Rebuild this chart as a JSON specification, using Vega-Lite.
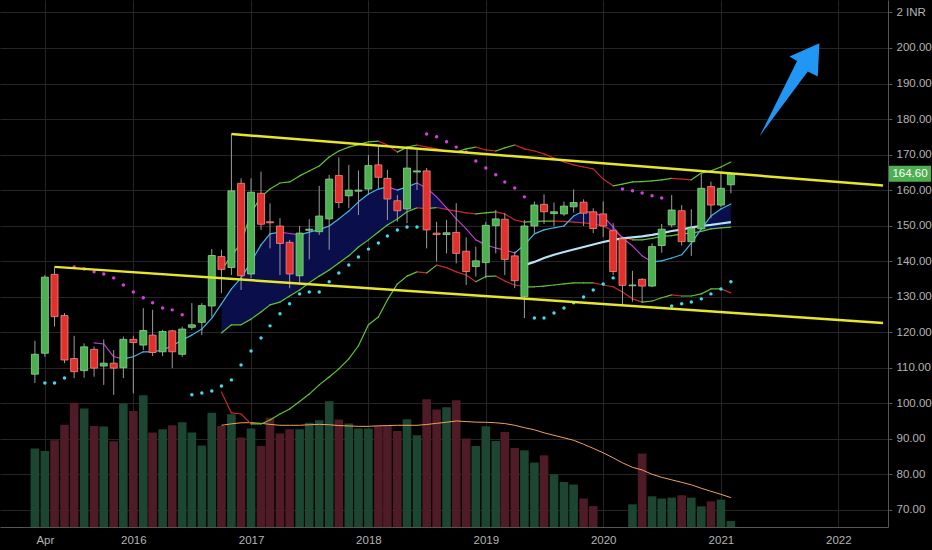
{
"$schema":"https://vega.github.io/schema/vega-lite/v6.json",
"width":888,"height":527,
"autosize":{"type":"none"},
"padding":{"left":0,"top":0,"right":44,"bottom":23},
"background":"#000000",
"config":{"view":{"stroke":null},"font":"Liberation Sans","axis":{"labelOverlap":false,"labelBound":false}},
"datasets":{
"candles":[
{"t":"2015-03-01","o":108.2,"h":117.6,"l":105.7,"c":113.8,"v":59.5},
{"t":"2015-04-01","o":114.1,"h":136.1,"l":113.1,"c":135.5,"v":57.7,"sar":105.7,"sd":"up"},
{"t":"2015-05-01","o":136.3,"h":138.2,"l":121.6,"c":124.4,"v":65.8,"sar":105.7,"sd":"up"},
{"t":"2015-06-01","o":124.7,"h":125.4,"l":111.3,"c":112.2,"v":77.7,"sar":107.1,"sd":"up"},
{"t":"2015-07-01","o":112.6,"h":119.0,"l":107.1,"c":108.9,"v":94.4,"sar":138.4,"sd":"down"},
{"t":"2015-08-01","o":109.2,"h":116.9,"l":107.2,"c":115.9,"v":89.9,"sar":137.8,"sd":"down"},
{"t":"2015-09-01","o":115.2,"h":116.0,"l":107.5,"c":109.9,"v":76.7,"sar":137.0,"sd":"down"},
{"t":"2015-10-01","o":110.5,"h":118.0,"l":105.2,"c":111.3,"v":76.2,"sar":136.4,"sd":"down"},
{"t":"2015-11-01","o":111.3,"h":115.0,"l":102.4,"c":109.9,"v":65.0,"sar":135.3,"sd":"down"},
{"t":"2015-12-01","o":110.0,"h":118.8,"l":107.1,"c":118.0,"v":93.7,"sar":133.3,"sd":"down"},
{"t":"2016-01-01","o":118.0,"h":119.0,"l":102.8,"c":117.1,"v":88.0,"sar":131.3,"sd":"down"},
{"t":"2016-02-01","o":116.4,"h":126.8,"l":115.0,"c":120.5,"v":100.0,"sar":129.7,"sd":"down"},
{"t":"2016-03-01","o":119.2,"h":126.3,"l":113.3,"c":114.3,"v":71.7,"sar":128.3,"sd":"down"},
{"t":"2016-04-01","o":114.5,"h":120.7,"l":113.3,"c":120.2,"v":74.2,"sar":126.8,"sd":"down"},
{"t":"2016-05-01","o":120.4,"h":120.7,"l":109.9,"c":114.5,"v":77.2,"sar":126.3,"sd":"down"},
{"t":"2016-06-01","o":113.8,"h":121.6,"l":113.1,"c":120.9,"v":79.5,"sar":124.9,"sd":"down"},
{"t":"2016-07-01","o":121.4,"h":128.2,"l":120.7,"c":122.1,"v":71.7,"sar":102.4,"sd":"up"},
{"t":"2016-08-01","o":122.8,"h":128.2,"l":119.2,"c":127.5,"v":61.8,"sar":102.9,"sd":"up"},
{"t":"2016-09-01","o":127.4,"h":143.4,"l":124.4,"c":141.6,"v":86.8,"sar":103.5,"sd":"up"},
{"t":"2016-10-01","o":141.3,"h":143.2,"l":131.0,"c":137.7,"v":76.7,"sar":104.9,"sd":"up"},
{"t":"2016-11-01","o":138.2,"h":175.8,"l":136.1,"c":159.8,"v":85.5,"sar":106.6,"sd":"up"},
{"t":"2016-12-01","o":161.9,"h":163.3,"l":131.9,"c":135.9,"v":67.9,"sar":110.8,"sd":"up"},
{"t":"2017-01-01","o":136.4,"h":163.3,"l":135.2,"c":159.4,"v":74.7,"sar":114.7,"sd":"up"},
{"t":"2017-02-01","o":159.1,"h":165.2,"l":148.8,"c":150.4,"v":61.5,"sar":118.4,"sd":"up"},
{"t":"2017-03-01","o":151.1,"h":156.3,"l":143.6,"c":150.8,"v":83.0,"sar":121.8,"sd":"up"},
{"t":"2017-04-01","o":149.9,"h":152.1,"l":136.1,"c":145.0,"v":70.9,"sar":125.2,"sd":"up"},
{"t":"2017-05-01","o":145.3,"h":146.0,"l":132.4,"c":136.4,"v":74.2,"sar":128.0,"sd":"up"},
{"t":"2017-06-01","o":135.9,"h":149.9,"l":133.3,"c":147.9,"v":74.2,"sar":130.8,"sd":"up"},
{"t":"2017-07-01","o":148.7,"h":151.8,"l":140.5,"c":149.0,"v":79.2,"sar":131.3,"sd":"up"},
{"t":"2017-08-01","o":148.3,"h":161.2,"l":147.4,"c":152.7,"v":81.0,"sar":131.3,"sd":"up"},
{"t":"2017-09-01","o":151.9,"h":164.3,"l":143.2,"c":163.1,"v":95.4,"sar":134.2,"sd":"up"},
{"t":"2017-10-01","o":164.1,"h":169.2,"l":154.9,"c":156.5,"v":81.5,"sar":136.7,"sd":"up"},
{"t":"2017-11-01","o":158.4,"h":167.1,"l":154.9,"c":160.0,"v":78.5,"sar":138.9,"sd":"up"},
{"t":"2017-12-01","o":159.7,"h":165.5,"l":153.0,"c":160.0,"v":74.7,"sar":141.2,"sd":"up"},
{"t":"2018-01-01","o":160.3,"h":169.9,"l":158.6,"c":166.9,"v":74.7,"sar":143.4,"sd":"up"},
{"t":"2018-02-01","o":167.1,"h":172.2,"l":160.5,"c":163.6,"v":76.7,"sar":145.1,"sd":"up"},
{"t":"2018-03-01","o":163.3,"h":165.7,"l":151.6,"c":157.5,"v":76.7,"sar":147.1,"sd":"up"},
{"t":"2018-04-01","o":157.0,"h":158.6,"l":151.1,"c":154.2,"v":72.9,"sar":148.8,"sd":"up"},
{"t":"2018-05-01","o":154.7,"h":171.8,"l":150.7,"c":166.2,"v":81.7,"sar":149.6,"sd":"up"},
{"t":"2018-06-01","o":165.1,"h":171.3,"l":160.0,"c":165.4,"v":69.6,"sar":149.6,"sd":"up"},
{"t":"2018-07-01","o":165.4,"h":166.2,"l":143.6,"c":148.8,"v":96.9,"sar":175.8,"sd":"down"},
{"t":"2018-08-01","o":147.9,"h":151.1,"l":139.9,"c":147.5,"v":89.1,"sar":175.0,"sd":"down"},
{"t":"2018-09-01","o":147.5,"h":151.6,"l":142.2,"c":148.0,"v":90.8,"sar":173.6,"sd":"down"},
{"t":"2018-10-01","o":148.1,"h":156.3,"l":139.4,"c":142.2,"v":96.2,"sar":172.1,"sd":"down"},
{"t":"2018-11-01","o":142.8,"h":146.7,"l":133.3,"c":137.1,"v":67.1,"sar":170.7,"sd":"down"},
{"t":"2018-12-01","o":138.5,"h":144.1,"l":135.7,"c":140.1,"v":61.5,"sar":168.2,"sd":"down"},
{"t":"2019-01-01","o":139.6,"h":151.1,"l":135.2,"c":150.1,"v":76.4,"sar":166.2,"sd":"down"},
{"t":"2019-02-01","o":150.0,"h":154.4,"l":142.2,"c":151.9,"v":65.3,"sar":164.3,"sd":"down"},
{"t":"2019-03-01","o":151.8,"h":153.5,"l":136.1,"c":140.5,"v":72.1,"sar":162.3,"sd":"down"},
{"t":"2019-04-01","o":141.5,"h":142.7,"l":132.4,"c":134.5,"v":60.0,"sar":160.6,"sd":"down"},
{"t":"2019-05-01","o":130.0,"h":151.6,"l":124.0,"c":149.9,"v":58.2,"sar":158.1,"sd":"down"},
{"t":"2019-06-01","o":149.9,"h":156.8,"l":147.9,"c":155.8,"v":48.9,"sar":124.0,"sd":"up"},
{"t":"2019-07-01","o":156.0,"h":158.8,"l":150.5,"c":153.9,"v":54.4,"sar":124.0,"sd":"up"},
{"t":"2019-08-01","o":153.4,"h":156.5,"l":149.9,"c":153.9,"v":40.0,"sar":125.4,"sd":"up"},
{"t":"2019-09-01","o":153.3,"h":156.8,"l":152.7,"c":155.5,"v":34.2,"sar":126.8,"sd":"up"},
{"t":"2019-10-01","o":155.3,"h":160.2,"l":153.7,"c":156.5,"v":32.2,"sar":128.3,"sd":"up"},
{"t":"2019-11-01","o":156.6,"h":157.4,"l":149.9,"c":153.5,"v":21.6,"sar":129.9,"sd":"up"},
{"t":"2019-12-01","o":153.9,"h":154.9,"l":147.9,"c":149.2,"v":15.9,"sar":131.9,"sd":"up"},
{"t":"2020-01-01","o":153.3,"h":156.8,"l":146.8,"c":149.9,"v":0,"sar":133.6,"sd":"up"},
{"t":"2020-02-01","o":148.6,"h":150.7,"l":136.1,"c":137.1,"v":0,"sar":135.3,"sd":"up"},
{"t":"2020-03-01","o":146.3,"h":146.7,"l":127.4,"c":133.2,"v":0,"sar":160.3,"sd":"down"},
{"t":"2020-04-01","o":133.1,"h":137.3,"l":128.6,"c":133.3,"v":17.2,"sar":159.8,"sd":"down"},
{"t":"2020-05-01","o":134.9,"h":135.2,"l":128.3,"c":133.0,"v":55.7,"sar":159.2,"sd":"down"},
{"t":"2020-06-01","o":133.0,"h":145.0,"l":132.7,"c":144.1,"v":23.3,"sar":158.4,"sd":"down"},
{"t":"2020-07-01","o":144.4,"h":150.5,"l":142.4,"c":149.0,"v":21.6,"sar":157.8,"sd":"down"},
{"t":"2020-08-01","o":150.2,"h":158.6,"l":149.5,"c":154.4,"v":22.3,"sar":127.4,"sd":"up"},
{"t":"2020-09-01","o":154.2,"h":155.8,"l":144.4,"c":145.5,"v":24.1,"sar":128.0,"sd":"up"},
{"t":"2020-10-01","o":145.5,"h":154.6,"l":141.5,"c":149.3,"v":22.3,"sar":128.5,"sd":"up"},
{"t":"2020-11-01","o":149.1,"h":164.5,"l":148.8,"c":160.5,"v":15.7,"sar":129.4,"sd":"up"},
{"t":"2020-12-01","o":161.0,"h":162.4,"l":152.1,"c":155.8,"v":19.5,"sar":130.8,"sd":"up"},
{"t":"2021-01-01","o":155.8,"h":165.2,"l":155.2,"c":160.5,"v":20.8,"sar":132.2,"sd":"up"},
{"t":"2021-02-01","o":161.5,"h":164.9,"l":159.1,"c":164.6,"v":4.6,"sar":134.2,"sd":"up"}
],
"ind":[
{"t":"2015-09-01","f":117.0},
{"t":"2015-10-01","f":116.7},
{"t":"2015-11-01","f":113.1},
{"t":"2015-12-01","f":112.5},
{"t":"2016-01-01","f":113.1},
{"t":"2016-02-01","f":114.5},
{"t":"2016-03-01","f":114.5},
{"t":"2016-04-01","f":115.0},
{"t":"2016-05-01","f":116.2},
{"t":"2016-06-01","f":117.8},
{"t":"2016-07-01","f":119.2},
{"t":"2016-08-01","f":120.9},
{"t":"2016-09-01","f":124.0},
{"t":"2016-10-01","f":128.0,"u":137.5,"m":119.8,"lo":103.2,"vma":77.2},
{"t":"2016-11-01","f":132.2,"u":141.5,"m":122.1,"lo":97.3,"vma":78.3},
{"t":"2016-12-01","f":135.3,"u":145.1,"m":122.1,"lo":97.0,"vma":79.1},
{"t":"2017-01-01","f":139.8,"u":153.6,"m":123.7,"lo":94.2,"vma":79.2},
{"t":"2017-02-01","f":144.6,"u":158.1,"m":125.7,"lo":94.2,"vma":78.7},
{"t":"2017-03-01","f":147.7,"u":160.3,"m":127.7,"lo":95.3,"vma":77.9},
{"t":"2017-04-01","f":148.2,"u":162.0,"m":128.5,"lo":97.0,"vma":77.2},
{"t":"2017-05-01","f":147.8,"u":162.3,"m":130.2,"lo":98.4,"vma":77.2},
{"t":"2017-06-01","f":147.4,"u":164.0,"m":131.9,"lo":100.5,"vma":77.2},
{"t":"2017-07-01","f":148.2,"u":165.4,"m":133.9,"lo":102.6,"vma":77.6},
{"t":"2017-08-01","f":148.9,"u":166.8,"m":135.8,"lo":105.2,"vma":77.9},
{"t":"2017-09-01","f":149.9,"u":169.3,"m":137.5,"lo":107.4,"vma":77.6},
{"t":"2017-10-01","f":151.9,"u":171.0,"m":139.5,"lo":109.7,"vma":77.0},
{"t":"2017-11-01","f":154.1,"u":172.1,"m":141.5,"lo":112.5,"vma":76.7},
{"t":"2017-12-01","f":156.7,"u":172.8,"m":144.0,"lo":116.2,"vma":76.4},
{"t":"2018-01-01","f":158.9,"u":173.6,"m":146.0,"lo":122.1,"vma":76.4},
{"t":"2018-02-01","f":160.3,"u":173.8,"m":148.2,"lo":124.3,"vma":76.8},
{"t":"2018-03-01","f":160.9,"u":172.7,"m":150.2,"lo":129.1,"vma":77.0},
{"t":"2018-04-01","f":160.0,"u":170.7,"m":151.9,"lo":133.6,"vma":77.2},
{"t":"2018-05-01","f":160.9,"u":172.1,"m":153.9,"lo":135.8,"vma":77.2},
{"t":"2018-06-01","f":162.0,"u":172.7,"m":155.0,"lo":137.0,"vma":77.2},
{"t":"2018-07-01","f":160.6,"u":172.1,"m":154.8,"lo":136.7,"vma":77.8},
{"t":"2018-08-01","f":158.1,"u":171.6,"m":155.1,"lo":138.9,"vma":78.7},
{"t":"2018-09-01","f":155.0,"u":171.0,"m":154.6,"lo":138.2,"vma":79.5},
{"t":"2018-10-01","f":151.9,"u":170.7,"m":154.1,"lo":137.0,"vma":80.5},
{"t":"2018-11-01","f":149.1,"u":171.6,"m":153.6,"lo":136.1,"vma":80.0},
{"t":"2018-12-01","f":146.0,"u":172.1,"m":153.3,"lo":134.2,"vma":79.6},
{"t":"2019-01-01","f":144.6,"u":171.3,"m":153.6,"lo":135.7,"vma":79.5},
{"t":"2019-02-01","f":143.7,"u":171.0,"m":153.9,"lo":135.8,"vma":79.1},
{"t":"2019-03-01","f":143.2,"u":171.9,"m":153.3,"lo":134.4,"vma":78.5},
{"t":"2019-04-01","f":142.3,"u":172.7,"m":151.6,"lo":133.3,"vma":77.2},
{"t":"2019-05-01","f":144.6,"u":171.6,"m":151.0,"lo":132.8,"vma":75.4,"s50":138.9},
{"t":"2019-06-01","f":147.7,"u":171.0,"m":151.2,"lo":132.8,"vma":73.8,"s50":139.8},
{"t":"2019-07-01","f":148.8,"u":170.2,"m":151.3,"lo":133.0,"vma":71.5,"s50":140.9},
{"t":"2019-08-01","f":149.4,"u":169.0,"m":151.3,"lo":133.3,"vma":69.6,"s50":141.8},
{"t":"2019-09-01","f":149.9,"u":167.9,"m":151.2,"lo":133.6,"vma":67.7,"s50":142.6},
{"t":"2019-10-01","f":152.7,"u":167.1,"m":151.0,"lo":133.9,"vma":65.8,"s50":143.3},
{"t":"2019-11-01","f":154.1,"u":166.5,"m":150.8,"lo":133.9,"vma":62.8,"s50":144.0},
{"t":"2019-12-01","f":153.6,"u":166.0,"m":150.5,"lo":133.9,"vma":59.7,"s50":144.7},
{"t":"2020-01-01","f":152.7,"u":163.1,"m":149.9,"lo":133.3,"vma":56.3,"s50":145.4},
{"t":"2020-02-01","f":149.6,"u":161.2,"m":148.5,"lo":132.8,"vma":52.5,"s50":146.0},
{"t":"2020-03-01","f":146.5,"u":161.7,"m":146.8,"lo":131.3,"vma":48.7,"s50":146.4},
{"t":"2020-04-01","f":144.3,"u":162.3,"m":146.0,"lo":129.4,"vma":45.3,"s50":146.7},
{"t":"2020-05-01","f":141.5,"u":162.4,"m":146.0,"lo":128.5,"vma":43.3,"s50":147.0},
{"t":"2020-06-01","f":139.8,"u":162.6,"m":146.4,"lo":128.8,"vma":40.0,"s50":147.4},
{"t":"2020-07-01","f":140.1,"u":162.9,"m":147.0,"lo":129.7,"vma":37.7,"s50":147.9},
{"t":"2020-08-01","f":140.9,"u":163.3,"m":147.2,"lo":130.5,"vma":35.8,"s50":148.5},
{"t":"2020-09-01","f":141.8,"u":163.1,"m":147.7,"lo":130.2,"vma":33.9,"s50":148.9},
{"t":"2020-10-01","f":145.1,"u":162.9,"m":147.9,"lo":130.2,"vma":32.0,"s50":149.5},
{"t":"2020-11-01","f":149.1,"u":164.8,"m":148.4,"lo":130.8,"vma":29.4,"s50":149.9},
{"t":"2020-12-01","f":152.7,"u":165.4,"m":149.1,"lo":132.2,"vma":27.1,"s50":150.2},
{"t":"2021-01-01","f":154.7,"u":166.5,"m":149.4,"lo":132.2,"vma":24.8,"s50":150.6},
{"t":"2021-02-01","f":156.1,"u":167.9,"m":149.6,"lo":131.1,"vma":22.3,"s50":151.0}
],
"fill":[
{"seg":1,"t":"2016-10-01","a":128.0,"b":119.8},
{"seg":1,"t":"2016-11-01","a":132.2,"b":122.1},
{"seg":1,"t":"2016-12-01","a":135.3,"b":122.1},
{"seg":1,"t":"2017-01-01","a":139.8,"b":123.7},
{"seg":1,"t":"2017-02-01","a":144.6,"b":125.7},
{"seg":1,"t":"2017-03-01","a":147.7,"b":127.7},
{"seg":1,"t":"2017-04-01","a":148.2,"b":128.5},
{"seg":1,"t":"2017-05-01","a":147.8,"b":130.2},
{"seg":1,"t":"2017-06-01","a":147.4,"b":131.9},
{"seg":1,"t":"2017-07-01","a":148.2,"b":133.9},
{"seg":1,"t":"2017-08-01","a":148.9,"b":135.8},
{"seg":1,"t":"2017-09-01","a":149.9,"b":137.5},
{"seg":1,"t":"2017-10-01","a":151.9,"b":139.5},
{"seg":1,"t":"2017-11-01","a":154.1,"b":141.5},
{"seg":1,"t":"2017-12-01","a":156.7,"b":144.0},
{"seg":1,"t":"2018-01-01","a":158.9,"b":146.0},
{"seg":1,"t":"2018-02-01","a":160.3,"b":148.2},
{"seg":1,"t":"2018-03-01","a":160.9,"b":150.2},
{"seg":1,"t":"2018-04-01","a":160.0,"b":151.9},
{"seg":1,"t":"2018-05-01","a":160.9,"b":153.9},
{"seg":1,"t":"2018-06-01","a":162.0,"b":155.0},
{"seg":1,"t":"2018-07-01","a":160.6,"b":154.8},
{"seg":1,"t":"2018-08-01","a":158.1,"b":155.1},
{"seg":1,"t":"2018-09-01","a":155.0,"b":154.6},
{"seg":1,"t":"2018-09-05","a":154.5,"b":154.5},
{"seg":2,"t":"2019-09-14","a":151.1,"b":151.1},
{"seg":2,"t":"2019-10-01","a":152.7,"b":151.0},
{"seg":2,"t":"2019-11-01","a":154.1,"b":150.8},
{"seg":2,"t":"2019-12-01","a":153.6,"b":150.5},
{"seg":2,"t":"2020-01-01","a":152.7,"b":149.9},
{"seg":2,"t":"2020-02-01","a":149.6,"b":148.5},
{"seg":2,"t":"2020-02-24","a":147.2,"b":147.2},
{"seg":3,"t":"2020-10-25","a":148.3,"b":148.3},
{"seg":3,"t":"2020-11-01","a":149.1,"b":148.4},
{"seg":3,"t":"2020-12-01","a":152.7,"b":149.1},
{"seg":3,"t":"2021-01-01","a":154.7,"b":149.4},
{"seg":3,"t":"2021-02-01","a":156.1,"b":149.6}
],
"trend":[
{"s":"upper","t":"2016-11-01","p":175.8},
{"s":"upper","t":"2022-05-20","p":161.3},
{"s":"lower","t":"2015-05-01","p":138.4},
{"s":"lower","t":"2022-05-20","p":122.6}
],
"arrow":[{"t":"2021-08-01","p":188.2}],
"last":[{"p":164.6,"label":"164.60"}]
},
"resolve":{"scale":{"y":"independent"}},
"layer":[
{
"layer":[
{"data":{"name":"candles"},
 "mark":{"type":"bar","size":8.6},
 "encoding":{
  "x":{"field":"t","type":"temporal","title":null,"scale":{"type":"utc","domain":[{"year":2014,"month":11,"date":28,"utc":true},{"year":2022,"month":5,"date":20,"utc":true}]}},
  "y":{"field":"v","type":"quantitative","title":null,"axis":null,"scale":{"domain":[0,400],"nice":false}},
  "color":{"condition":{"test":"datum.c >= datum.o","value":"#1c4632"},"value":"#4f1b27"}}},
{"data":{"name":"ind"},
 "transform":[{"filter":"isValid(datum.vma)"}],
 "mark":{"type":"line","color":"#f0a15a","strokeWidth":1},
 "encoding":{
  "x":{"field":"t","type":"temporal","title":null,"scale":{"type":"utc","domain":[{"year":2014,"month":11,"date":28,"utc":true},{"year":2022,"month":5,"date":20,"utc":true}]}},
  "y":{"field":"vma","type":"quantitative","title":null,"axis":null,"scale":{"domain":[0,400],"nice":false}}}}
]
},
{
"layer":[
{"data":{"name":"fill"},
 "mark":{"type":"area","color":"#0a0e4a","opacity":1},
 "encoding":{
  "x":{"field":"t","type":"temporal","title":null,
   "scale":{"type":"utc","domain":[{"year":2014,"month":11,"date":28,"utc":true},{"year":2022,"month":5,"date":20,"utc":true}]},
   "axis":{"values":[{"year":2015,"month":4,"date":1,"utc":true},{"year":2016,"month":1,"date":1,"utc":true},{"year":2017,"month":1,"date":1,"utc":true},{"year":2018,"month":1,"date":1,"utc":true},{"year":2019,"month":1,"date":1,"utc":true},{"year":2020,"month":1,"date":1,"utc":true},{"year":2021,"month":1,"date":1,"utc":true},{"year":2022,"month":1,"date":1,"utc":true}],
    "tickCount":40,
    "labelExpr":"utcmonth(datum.value) == 3 ? 'Apr' : utcFormat(datum.value, '%Y')",
    "grid":true,"gridColor":"#252525","tickSize":0,"domainColor":"#555555","labelColor":"#b4b4b4","labelFontSize":11.5,"labelPadding":7,"labelFlush":false,"labelOverlap":false}},
  "y":{"field":"a","type":"quantitative","title":null,
   "scale":{"domain":[65.2,213.5],"nice":false,"zero":false},
   "axis":{"orient":"right","values":[70,80,90,100,110,120,130,140,150,160,170,180,190,200,210],
    "tickCount":40,
    "labelExpr":"datum.value == 210 ? '2 INR' : format(datum.value, '.2f')",
    "grid":true,"gridColor":"#252525","tickSize":4,"tickColor":"#555555","domainColor":"#555555","labelColor":"#b4b4b4","labelFontSize":11.5,"labelPadding":4,"labelOverlap":false,"labelBound":false}},
  "y2":{"field":"b"},
  "detail":{"field":"seg","type":"nominal"}}},
{"data":{"name":"ind"},
 "transform":[
  {"fold":["u","m","lo"],"as":["s","v"]},
  {"filter":"isValid(datum.v)"},
  {"window":[{"op":"lag","field":"v","as":"pv"},{"op":"lag","field":"t","as":"pt"}],"groupby":["s"],"sort":[{"field":"t","order":"ascending"}]},
  {"filter":"isValid(datum.pv)"}],
 "mark":{"type":"rule","strokeWidth":1.2,"strokeCap":"round"},
 "encoding":{
  "x":{"field":"pt","type":"temporal","title":null,"scale":{"type":"utc","domain":[{"year":2014,"month":11,"date":28,"utc":true},{"year":2022,"month":5,"date":20,"utc":true}]}},
  "x2":{"field":"t"},
  "y":{"field":"pv","type":"quantitative","title":null,"scale":{"domain":[65.2,213.5],"nice":false,"zero":false}},
  "y2":{"field":"v"},
  "color":{"condition":{"test":"datum.v >= datum.pv","value":"#62c336"},"value":"#c92a2a"}}},
{"data":{"name":"ind"},
 "transform":[
  {"filter":"isValid(datum.f)"},
  {"window":[{"op":"lag","field":"f","as":"pf"},{"op":"lag","field":"t","as":"pt"}],"sort":[{"field":"t","order":"ascending"}]},
  {"filter":"isValid(datum.pf)"}],
 "mark":{"type":"rule","strokeWidth":1.2,"strokeCap":"round"},
 "encoding":{
  "x":{"field":"pt","type":"temporal","title":null,"scale":{"type":"utc","domain":[{"year":2014,"month":11,"date":28,"utc":true},{"year":2022,"month":5,"date":20,"utc":true}]}},
  "x2":{"field":"t"},
  "y":{"field":"pf","type":"quantitative","title":null,"scale":{"domain":[65.2,213.5],"nice":false,"zero":false}},
  "y2":{"field":"f"},
  "color":{"condition":{"test":"datum.f >= datum.pf","value":"#3fb8e6"},"value":"#b93fc9"}}},
{"data":{"name":"ind"},
 "transform":[{"filter":"isValid(datum.s50)"}],
 "mark":{"type":"line","color":"#b5e3f7","strokeWidth":2.2},
 "encoding":{
  "x":{"field":"t","type":"temporal","title":null,"scale":{"type":"utc","domain":[{"year":2014,"month":11,"date":28,"utc":true},{"year":2022,"month":5,"date":20,"utc":true}]}},
  "y":{"field":"s50","type":"quantitative","title":null,"scale":{"domain":[65.2,213.5],"nice":false,"zero":false}}}},
{"data":{"name":"candles"},
 "transform":[{"filter":"isValid(datum.sar)"}],
 "mark":{"type":"circle","size":12,"opacity":1},
 "encoding":{
  "x":{"field":"t","type":"temporal","title":null,"scale":{"type":"utc","domain":[{"year":2014,"month":11,"date":28,"utc":true},{"year":2022,"month":5,"date":20,"utc":true}]}},
  "y":{"field":"sar","type":"quantitative","title":null,"scale":{"domain":[65.2,213.5],"nice":false,"zero":false}},
  "color":{"condition":{"test":"datum.sd == 'up'","value":"#3ddcef"},"value":"#d93ae6"}}},
{"data":{"name":"candles"},
 "mark":{"type":"rule","color":"#9c9c9c","strokeWidth":1},
 "encoding":{
  "x":{"field":"t","type":"temporal","title":null,"scale":{"type":"utc","domain":[{"year":2014,"month":11,"date":28,"utc":true},{"year":2022,"month":5,"date":20,"utc":true}]}},
  "y":{"field":"l","type":"quantitative","title":null,"scale":{"domain":[65.2,213.5],"nice":false,"zero":false}},
  "y2":{"field":"h"}}},
{"data":{"name":"candles"},
 "mark":{"type":"bar","size":7,"strokeWidth":0.8},
 "encoding":{
  "x":{"field":"t","type":"temporal","title":null,"scale":{"type":"utc","domain":[{"year":2014,"month":11,"date":28,"utc":true},{"year":2022,"month":5,"date":20,"utc":true}]}},
  "y":{"field":"o","type":"quantitative","title":null,"scale":{"domain":[65.2,213.5],"nice":false,"zero":false}},
  "y2":{"field":"c"},
  "fill":{"condition":{"test":"datum.c >= datum.o","value":"#4caf50"},"value":"#e2302c"},
  "stroke":{"condition":{"test":"datum.c >= datum.o","value":"#8fd694"},"value":"#f28b82"}}},
{"data":{"name":"trend"},
 "mark":{"type":"line","color":"#e6e62c","strokeWidth":2.5},
 "encoding":{
  "x":{"field":"t","type":"temporal","title":null,"scale":{"type":"utc","domain":[{"year":2014,"month":11,"date":28,"utc":true},{"year":2022,"month":5,"date":20,"utc":true}]}},
  "y":{"field":"p","type":"quantitative","title":null,"scale":{"domain":[65.2,213.5],"nice":false,"zero":false}},
  "detail":{"field":"s","type":"nominal"}}},
{"data":{"name":"arrow"},
 "mark":{"type":"point","filled":true,"opacity":1,"size":10000,"color":"#2196f3","strokeWidth":0,
  "shape":"M0.607,-0.933 L0.573,-0.267 L0.373,-0.367 L-0.593,0.933 L0.16,-0.58 L0.007,-0.667 Z"},
 "encoding":{
  "x":{"field":"t","type":"temporal","title":null,"scale":{"type":"utc","domain":[{"year":2014,"month":11,"date":28,"utc":true},{"year":2022,"month":5,"date":20,"utc":true}]}},
  "y":{"field":"p","type":"quantitative","title":null,"scale":{"domain":[65.2,213.5],"nice":false,"zero":false}}}},
{"data":{"name":"last"},
 "mark":{"type":"point","filled":true,"opacity":1,"size":1764,"color":"#4caf50","strokeWidth":0,"xOffset":22,
  "shape":"M-1,-0.38 L1,-0.38 L1,0.38 L-1,0.38 Z"},
 "encoding":{
  "x":{"value":"width"},
  "y":{"field":"p","type":"quantitative","title":null,"scale":{"domain":[65.2,213.5],"nice":false,"zero":false}}}},
{"data":{"name":"last"},
 "mark":{"type":"text","color":"#ffffff","fontSize":11.5,"xOffset":22,"align":"center","baseline":"middle"},
 "encoding":{
  "x":{"value":"width"},
  "y":{"field":"p","type":"quantitative","title":null,"scale":{"domain":[65.2,213.5],"nice":false,"zero":false}},
  "text":{"field":"label"}}}
]
}
]
}
